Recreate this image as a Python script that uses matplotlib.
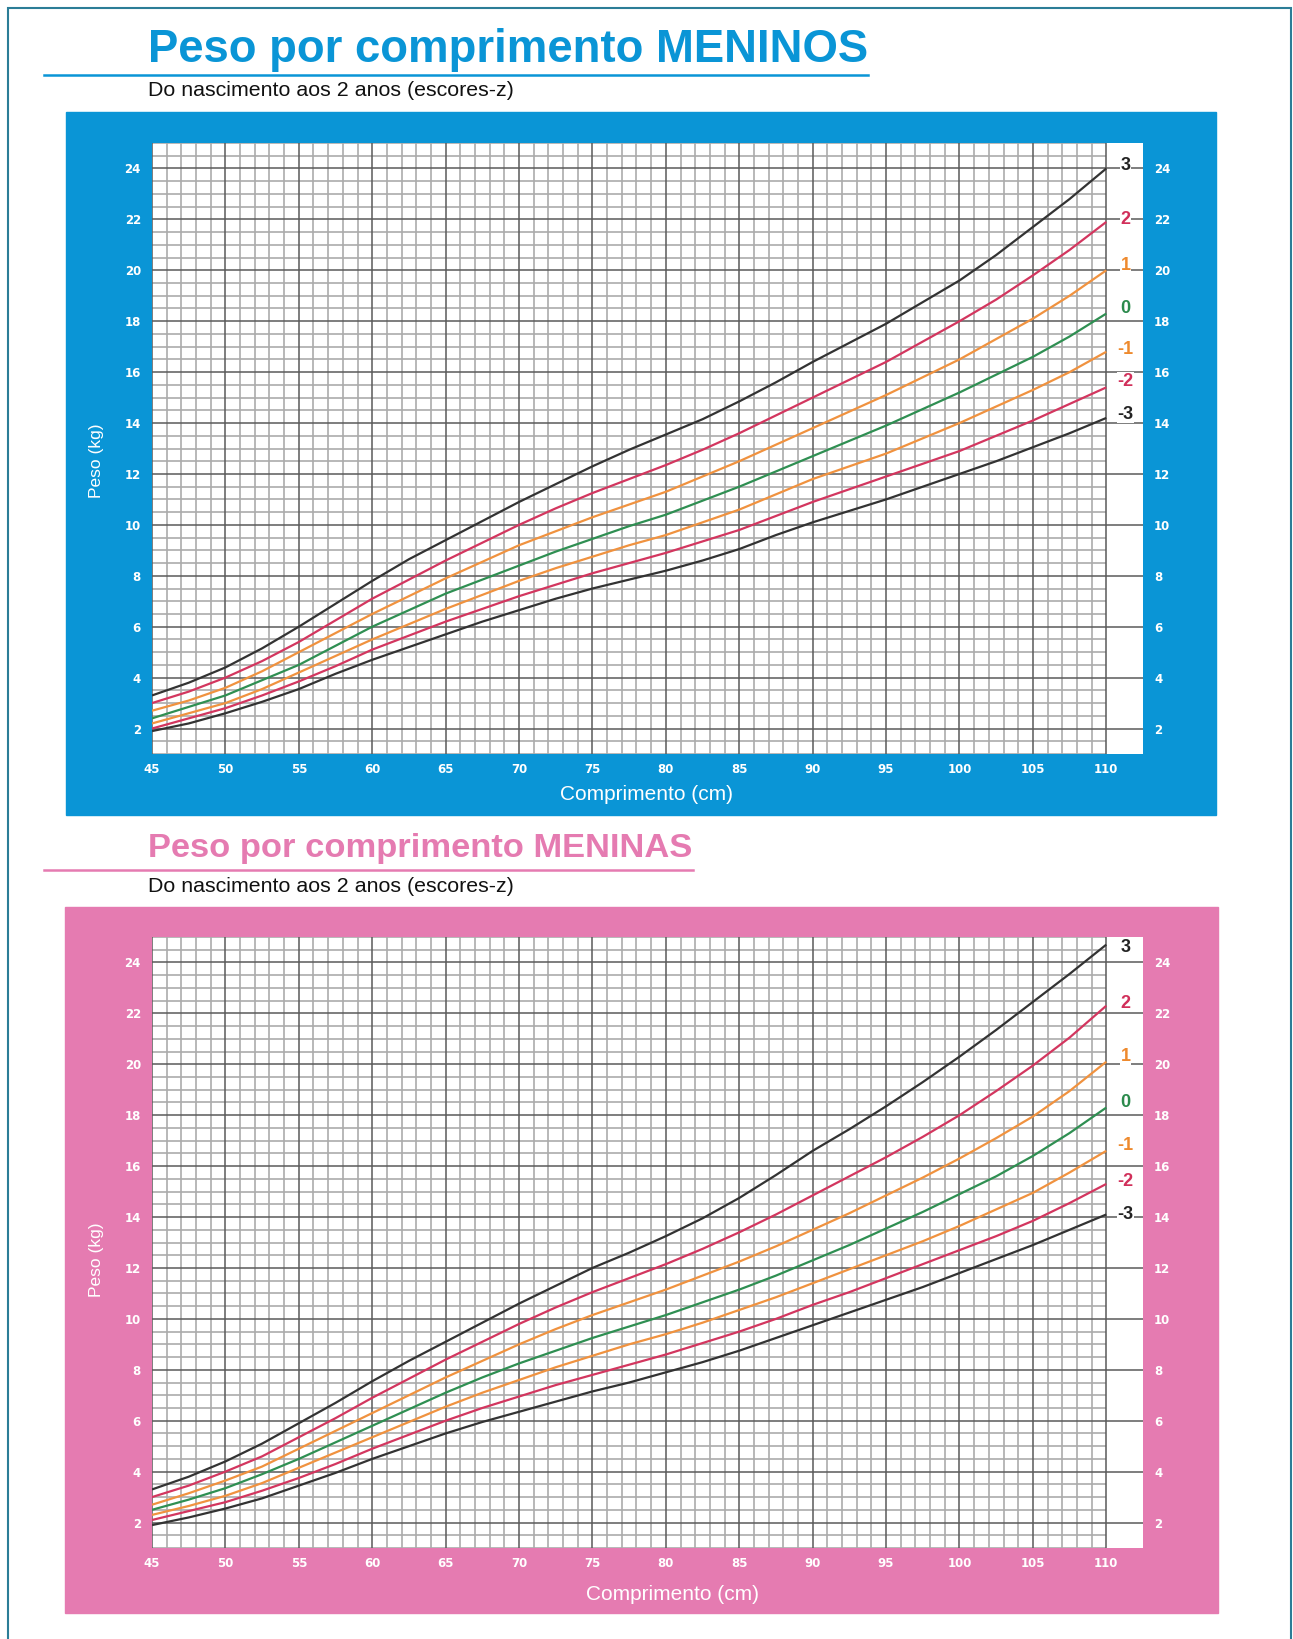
import numpy as np
import matplotlib.pyplot as plt
from matplotlib.patches import Rectangle
from matplotlib.lines import Line2D

W, H = 1293, 1639

# -----------------------
# Data: peso (kg) por comprimento (cm), escores-z
# -----------------------
length = [45, 47.5, 50, 52.5, 55, 57.5, 60, 62.5, 65, 67.5, 70, 72.5, 75, 77.5,
          80, 82.5, 85, 87.5, 90, 92.5, 95, 97.5, 100, 102.5, 105, 107.5, 110]

boys_z3 = [3.3, 3.8, 4.4, 5.15, 6.0, 6.9, 7.8, 8.65, 9.4, 10.15, 10.9, 11.6, 12.3, 12.95,
           13.55, 14.15, 14.85, 15.6, 16.4, 17.15, 17.9, 18.75, 19.6, 20.6, 21.7, 22.8, 24.0]
boys_z2 = [3.0, 3.45, 4.0, 4.65, 5.4, 6.25, 7.1, 7.85, 8.6, 9.3, 10.0, 10.65, 11.25, 11.8,
           12.35, 12.95, 13.6, 14.3, 15.0, 15.7, 16.4, 17.2, 18.0, 18.85, 19.8, 20.8, 21.9]
boys_z1 = [2.7, 3.1, 3.6, 4.25, 5.0, 5.75, 6.5, 7.2, 7.9, 8.55, 9.2, 9.75, 10.3, 10.8,
           11.3, 11.9, 12.5, 13.15, 13.8, 14.45, 15.1, 15.8, 16.5, 17.3, 18.1, 19.0, 20.0]
boys_z0 = [2.4, 2.85, 3.3, 3.9, 4.5, 5.25, 6.0, 6.65, 7.3, 7.85, 8.4, 8.95, 9.45, 9.95,
           10.4, 10.95, 11.5, 12.1, 12.7, 13.3, 13.9, 14.55, 15.2, 15.9, 16.6, 17.4, 18.3]
boys_zm1 = [2.2, 2.6, 3.0, 3.55, 4.2, 4.85, 5.5, 6.1, 6.7, 7.25, 7.8, 8.3, 8.75, 9.2,
            9.6, 10.1, 10.6, 11.2, 11.8, 12.3, 12.8, 13.4, 14.0, 14.65, 15.3, 16.0, 16.8]
boys_zm2 = [2.0, 2.4, 2.8, 3.3, 3.85, 4.45, 5.1, 5.65, 6.2, 6.7, 7.2, 7.65, 8.1, 8.5,
            8.9, 9.35, 9.8, 10.35, 10.9, 11.4, 11.9, 12.4, 12.9, 13.5, 14.1, 14.75, 15.4]
boys_zm3 = [1.9, 2.2, 2.6, 3.05, 3.55, 4.15, 4.7, 5.2, 5.7, 6.2, 6.65, 7.1, 7.5, 7.85,
            8.2, 8.6, 9.05, 9.6, 10.1, 10.55, 11.0, 11.5, 12.0, 12.5, 13.05, 13.6, 14.2]

girls_z3 = [3.3, 3.8, 4.4, 5.1, 5.9, 6.7, 7.55, 8.35, 9.1, 9.85, 10.6, 11.3, 12.0, 12.6,
            13.25, 13.95, 14.75, 15.65, 16.6, 17.45, 18.35, 19.3, 20.3, 21.35, 22.45, 23.55, 24.7]
girls_z2 = [3.0, 3.45, 4.0, 4.6, 5.35, 6.1, 6.9, 7.65, 8.4, 9.1, 9.8, 10.45, 11.05, 11.6,
            12.15, 12.75, 13.4, 14.1, 14.85, 15.6, 16.35, 17.15, 18.0, 18.95, 19.95, 21.05, 22.3]
girls_z1 = [2.7, 3.15, 3.65, 4.2, 4.9, 5.6, 6.3, 7.0, 7.7, 8.35, 9.0, 9.6, 10.15, 10.65,
            11.15, 11.7, 12.25, 12.85, 13.5, 14.15, 14.85, 15.55, 16.3, 17.1, 17.95, 18.95, 20.1]
girls_z0 = [2.5, 2.9, 3.35, 3.9, 4.5, 5.15, 5.8, 6.45, 7.1, 7.7, 8.25, 8.75, 9.25, 9.7,
            10.15, 10.65, 11.15, 11.7, 12.3, 12.9, 13.55, 14.2, 14.9, 15.6, 16.4, 17.3, 18.3]
girls_zm1 = [2.3, 2.65, 3.05, 3.55, 4.15, 4.75, 5.35, 5.95, 6.55, 7.1, 7.6, 8.1, 8.55, 9.0,
             9.4, 9.85, 10.35, 10.85, 11.4, 11.95, 12.5, 13.05, 13.65, 14.3, 14.95, 15.75, 16.6]
girls_zm2 = [2.1, 2.45, 2.8, 3.25, 3.75, 4.3, 4.9, 5.45, 6.0, 6.5, 6.95, 7.4, 7.8, 8.2,
             8.6, 9.05, 9.5, 10.0, 10.55, 11.05, 11.6, 12.15, 12.7, 13.25, 13.85, 14.55, 15.3]
girls_zm3 = [1.9, 2.2, 2.55, 2.95, 3.45, 3.95, 4.5, 5.0, 5.5, 5.95, 6.35, 6.75, 7.15, 7.5,
             7.9, 8.3, 8.75, 9.25, 9.75, 10.25, 10.75, 11.25, 11.8, 12.35, 12.9, 13.5, 14.1]

z_names = ["3", "2", "1", "0", "-1", "-2", "-3"]
boys_label_y = [24.1, 22.0, 20.2, 18.5, 16.9, 15.65, 14.35]
girls_label_y = [24.6, 22.4, 20.3, 18.5, 16.8, 15.4, 14.1]

x_ticks = list(range(45, 111, 5))
y_ticks = list(range(2, 25, 2))

# -----------------------
# Style
# -----------------------
curve_colors = ["#333333", "#d3365f", "#f0923f", "#2f8f52", "#f0923f", "#d3365f", "#333333"]
label_colors = ["#222222", "#d12f5a", "#ee8a2e", "#2b8a4c", "#ee8a2e", "#d12f5a", "#222222"]
blue = "#0a95d6"
pink = "#e57bb1"
text_font = ["Liberation Sans", "DejaVu Sans"]
tick_font = ["Liberation Sans Narrow", "DejaVu Sans"]


def fx(px):
    return px / W


def fy(py):
    return 1 - py / H


fig = plt.figure(figsize=(W / 100, H / 100), dpi=100)

# outer border
fig.add_artist(Rectangle((fx(8), fy(1650)), fx(1283), (1650 - 8) / H, transform=fig.transFigure,
                         fill=False, edgecolor="#2b7d97", lw=1.5))


def draw_chart(title, color, title_size, title_base, rule_y, rule_right, sub_y,
               panel, axes_box, curves, label_y, xlabel_pos, ylabel_pos):
    fig.text(fx(148), fy(title_base), title, color=color, fontsize=title_size,
             fontweight="bold", family=text_font, va="baseline", ha="left")
    fig.add_artist(Line2D([fx(44), fx(rule_right)], [fy(rule_y), fy(rule_y)],
                          transform=fig.transFigure, color=color, lw=1.8))
    fig.text(fx(148), fy(sub_y), "Do nascimento aos 2 anos (escores-z)", color="#111111",
             fontsize=15.4, family=text_font, va="center", ha="left")

    x0, y0, x1, y1 = panel
    fig.add_artist(Rectangle((fx(x0), fy(y1)), (x1 - x0) / W, (y1 - y0) / H,
                             transform=fig.transFigure, color=color, zorder=0))

    a0, b0, a1, b1 = axes_box
    ax = fig.add_axes([fx(a0), fy(b1), (a1 - a0) / W, (b1 - b0) / H])
    ax.set_facecolor("white")
    ax.set_xlim(45, 112.5)
    ax.set_ylim(1, 25)
    for s in ax.spines.values():
        s.set_visible(False)

    # grid paper
    xs = np.arange(45, 111)
    ax.vlines(xs[xs % 5 != 0], 1, 25, colors="#ababab", lw=1.2, zorder=1)
    ys = np.arange(1, 25.01, 0.5)
    ax.hlines(ys[ys % 2 != 0], 45, 110, colors="#ababab", lw=1.2, zorder=1)
    ax.vlines(xs[xs % 5 == 0], 1, 25, colors="#5a5a5a", lw=1.1, zorder=2)
    ax.hlines(ys[ys % 2 == 0], 45, 112.5, colors="#5a5a5a", lw=1.1, zorder=2)

    for vals, c in zip(curves, curve_colors):
        ax.plot(length, vals, color=c, lw=1.6, zorder=3, solid_capstyle="butt")

    for name, yy, c in zip(z_names, label_y, label_colors):
        ax.text(111.3, yy, name, color=c, fontsize=13, fontweight="semibold", family=text_font,
                ha="center", va="center", zorder=4,
                bbox=dict(facecolor="white", edgecolor="none", pad=0.5))

    ax.set_xticks(x_ticks)
    ax.set_yticks(y_ticks)
    ax.tick_params(length=0, labelcolor="white", labelsize=8.5)
    ax.tick_params(axis="x", pad=6.5)
    ax.tick_params(axis="y", pad=8, labelright=True)
    for lab in ax.get_xticklabels() + ax.get_yticklabels():
        lab.set_fontweight("bold")
        lab.set_family(tick_font)

    fig.text(fx(xlabel_pos[0]), fy(xlabel_pos[1]), "Comprimento (cm)", color="white",
             fontsize=15, family=text_font, ha="center", va="center")
    fig.text(fx(ylabel_pos[0]), fy(ylabel_pos[1]), "Peso (kg)", color="white",
             fontsize=12.5, family=text_font, ha="center", va="center", rotation=90)
    return ax


draw_chart("Peso por comprimento MENINOS", blue, 32.8, 62, 75, 868, 90,
           (66, 112, 1216, 815), (152, 143, 1143, 754),
           [boys_z3, boys_z2, boys_z1, boys_z0, boys_zm1, boys_zm2, boys_zm3],
           boys_label_y, (647, 795), (96, 461))

draw_chart("Peso por comprimento MENINAS", pink, 24.8, 857, 870, 693, 886,
           (65, 907, 1218, 1613), (152, 937, 1143, 1548),
           [girls_z3, girls_z2, girls_z1, girls_z0, girls_zm1, girls_zm2, girls_zm3],
           girls_label_y, (672, 1594), (96, 1260))

plt.savefig("out.png", dpi=100)
plt.close()
